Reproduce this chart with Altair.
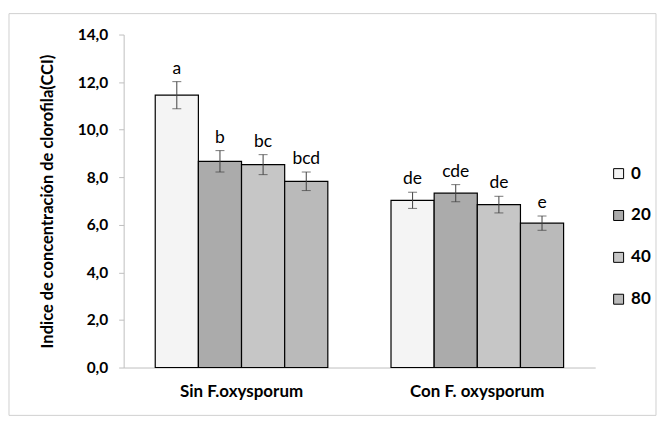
import altair as alt
import pandas as pd

groups = ["Sin F.oxysporum"] * 4 + ["Con F. oxysporum"] * 4
doses = ["0", "20", "40", "80"] * 2
means = [11.45, 8.67, 8.53, 7.83, 7.03, 7.33, 6.85, 6.07]
errors = [0.57, 0.45, 0.42, 0.39, 0.34, 0.36, 0.35, 0.30]
letters = ["a", "b", "bc", "bcd", "de", "cde", "de", "e"]

group_order = ["Sin F.oxysporum", "Con F. oxysporum"]
dose_order = ["0", "20", "40", "80"]
fills = ["#f4f4f4", "#ababab", "#c6c6c6", "#bababa"]

df = pd.DataFrame({
    "grupo": groups,
    "dosis": doses,
    "media": means,
    "err": errors,
    "letra": letters,
})
df["lo"] = df["media"] - df["err"]
df["hi"] = df["media"] + df["err"]

FONT = "Lato"

x = alt.X("grupo:N", sort=group_order,
          scale=alt.Scale(paddingInner=0.268, paddingOuter=0.134),
          axis=alt.Axis(title=None, labelAngle=0, ticks=False, tickSize=0,
                        labelPadding=16, labelFontSize=17, labelFontWeight="bold",
                        labelColor="#000000", labelFont=FONT,
                        domainColor="#bfbfbf", labelBaseline="top"))
xo = alt.XOffset("dosis:N", sort=dose_order, scale=alt.Scale(paddingInner=0, paddingOuter=0))

base = alt.Chart(df)

bars = base.mark_bar(stroke="#000000", strokeWidth=1.2).encode(
    x=x,
    xOffset=xo,
    y=alt.Y("media:Q", scale=alt.Scale(domain=[0, 14]),
            axis=alt.Axis(title="Indice de concentración de clorofila(CCI)",
                          values=[0, 2, 4, 6, 8, 10, 12, 14], format=".1f",
                          labelExpr="replace(format(datum.value, '.1f'), '.', ',')",
                          grid=False, tickSize=5, tickColor="#bfbfbf",
                          domainColor="#bfbfbf", labelPadding=11,
                          labelFontSize=15.5, labelFontWeight="bold",
                          labelColor="#000000", labelFont=FONT,
                          titleFontSize=16.5, titleFontWeight="bold",
                          titleColor="#000000", titleFont=FONT, titlePadding=22)),
    fill=alt.Fill("dosis:N", sort=dose_order,
                  scale=alt.Scale(domain=dose_order, range=fills),
                  legend=alt.Legend(title=None, orient="none", legendX=488, legendY=131,
                                    symbolType="square", symbolSize=100,
                                    symbolStrokeColor="#000000", symbolStrokeWidth=1,
                                    labelFontSize=17, labelFontWeight="bold",
                                    labelColor="#000000", labelFont=FONT,
                                    labelOffset=4, rowPadding=24, padding=0)),
)

rules = base.mark_rule(color="#404040", strokeWidth=1).encode(
    x=x, xOffset=xo, y="lo:Q", y2="hi:Q")

caps_hi = base.mark_tick(color="#404040", thickness=1, size=9, orient="horizontal").encode(
    x=x, xOffset=xo, y="hi:Q")
caps_lo = base.mark_tick(color="#404040", thickness=1, size=9, orient="horizontal").encode(
    x=x, xOffset=xo, y="lo:Q")

labels = base.mark_text(fontSize=17.5, font=FONT, color="#000000", baseline="alphabetic",
                        dy=-8).encode(
    x=x, xOffset=xo, y="hi:Q", text="letra:N")

border = alt.Chart(pd.DataFrame({"k": [0]})).mark_rect(
    filled=False, stroke="#d0d0d0", strokeWidth=1, clip=False).encode(
    x=alt.value(-115), x2=alt.value(534), y=alt.value(-21), y2=alt.value(382))

chart = alt.layer(border, bars, rules, caps_hi, caps_lo, labels).properties(
    width=473, height=334,
    padding={"left": 0, "top": 4, "right": 0, "bottom": 0},
).configure_view(stroke=None)

chart.save("out.html", embed_options={"renderer": "svg", "actions": False})
